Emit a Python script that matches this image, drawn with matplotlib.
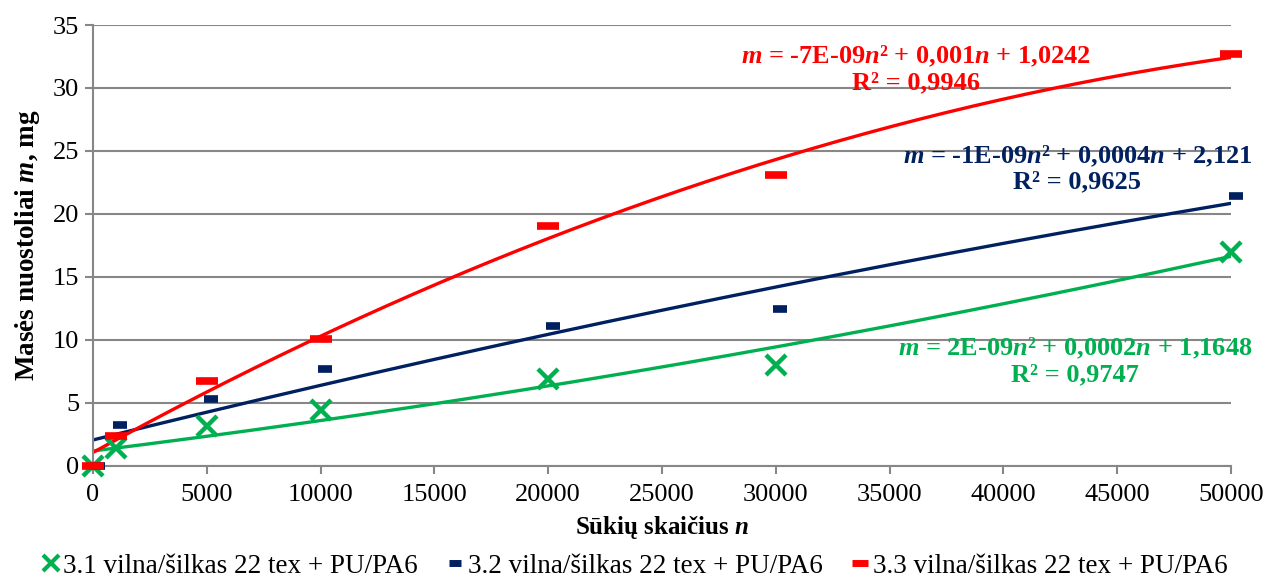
import matplotlib.pyplot as plt
import numpy as np
from matplotlib.lines import Line2D

plt.rcParams['font.family'] = ['Liberation Serif', 'DejaVu Serif']
plt.rcParams['mathtext.fontset'] = 'custom'
plt.rcParams['mathtext.rm'] = 'Liberation Serif:bold'
plt.rcParams['mathtext.it'] = 'Liberation Serif:bold:italic'
plt.rcParams['mathtext.bf'] = 'Liberation Serif:bold'

# measurement points (number of rubbing cycles n, mass loss m in mg)
n_31 = [0, 1000, 5000, 10000, 20000, 30000, 50000]
m_31 = [0.0, 1.4, 3.1, 4.4, 6.9, 8.0, 17.0]

n_32 = [200, 1200, 5200, 10200, 20200, 30200, 50200]
m_32 = [0.0, 3.2, 5.3, 7.7, 11.1, 12.4, 21.4]

n_33 = [0, 1000, 5000, 10000, 20000, 30000, 50000]
m_33 = [0.0, 2.35, 6.7, 10.05, 19.05, 23.1, 32.7]

labels = ['3.1 vilna/šilkas 22 tex + PU/PA6',
          '3.2 vilna/šilkas 22 tex + PU/PA6',
          '3.3 vilna/šilkas 22 tex + PU/PA6']
equations = [
    r'$m$ = 2E-09$n$² + 0,0002$n$ + 1,1648' + '\nR² = 0,9747',
    r'$m$ = -1E-09$n$² + 0,0004$n$ + 2,121' + '\nR² = 0,9625',
    r'$m$ = -7E-09$n$² + 0,001$n$ + 1,0242' + '\nR² = 0,9946',
]

green = '#00B050'
navy = '#002060'
red = '#FF0000'
grid_col = '#878787'

fig = plt.figure(figsize=(12.67, 5.82), dpi=100)
ax = fig.add_axes([93 / 1267, 1 - 465.5 / 582, (1231 - 93) / 1267, (465.5 - 25) / 582])

ax.set_xlim(0, 50000)
ax.set_ylim(0, 35)
ax.set_xticks(np.arange(0, 50001, 5000))
ax.set_yticks(np.arange(0, 36, 5))
ax.grid(axis='y', color=grid_col, lw=1.5)
ax.set_axisbelow(True)
for s in ['top', 'right']:
    ax.spines[s].set_visible(False)
for s in ['left', 'bottom']:
    ax.spines[s].set_color(grid_col)
    ax.spines[s].set_linewidth(1.5)
ax.tick_params(axis='both', colors=grid_col, width=1.5, length=6, labelsize=19,
               labelcolor='black')
ax.tick_params(axis='x', pad=7)
ax.tick_params(axis='y', pad=4)

# quadratic trend lines fitted to each series
nn = np.linspace(0, 50000, 300)
series = [(n_31, m_31, green), (n_32, m_32, navy), (n_33, m_33, red)]
for xs, ys, col in series:
    coef = np.polyfit(xs, ys, 2)
    ax.plot(nn, np.polyval(coef, nn), color=col, lw=2.4, zorder=2)

ax.plot(n_31, m_31, ls='none', marker='x', ms=15, mew=3.2, color=green, clip_on=False, zorder=3)
ax.plot(n_32, m_32, ls='none', marker='_', ms=10, mew=5.5, color=navy, clip_on=False, zorder=3)
ax.plot(n_33, m_33, ls='none', marker='_', ms=16, mew=5.5, color=red, clip_on=False, zorder=4)

eq_pos = [(43150, 8.3), (43250, 23.6), (36150, 31.5)]
for (x, y), txt, col in zip(eq_pos, equations, [green, navy, red]):
    ax.text(x, y, txt, color=col, fontsize=19, fontweight='bold', ha='center', va='center',
            linespacing=1.12)

ax.set_xlabel(r'Sūkių skaičius $n$', fontsize=18, fontweight='bold', labelpad=6)
ax.set_ylabel(r'Masės nuostoliai $m$, mg', fontsize=19.5, fontweight='bold', labelpad=8)

handles = [
    Line2D([], [], ls='none', marker='x', ms=12, mew=3, color=green),
    Line2D([], [], ls='none', marker='_', ms=8, mew=5, color=navy),
    Line2D([], [], ls='none', marker='_', ms=12, mew=5, color=red),
]
fig.legend(handles, labels, loc='lower center', bbox_to_anchor=(0.5, -0.036), ncol=3,
           frameon=False, fontsize=19.5, handlelength=0.8, handletextpad=0.05,
           columnspacing=1.0)

fig.savefig('out.png', dpi=100)
